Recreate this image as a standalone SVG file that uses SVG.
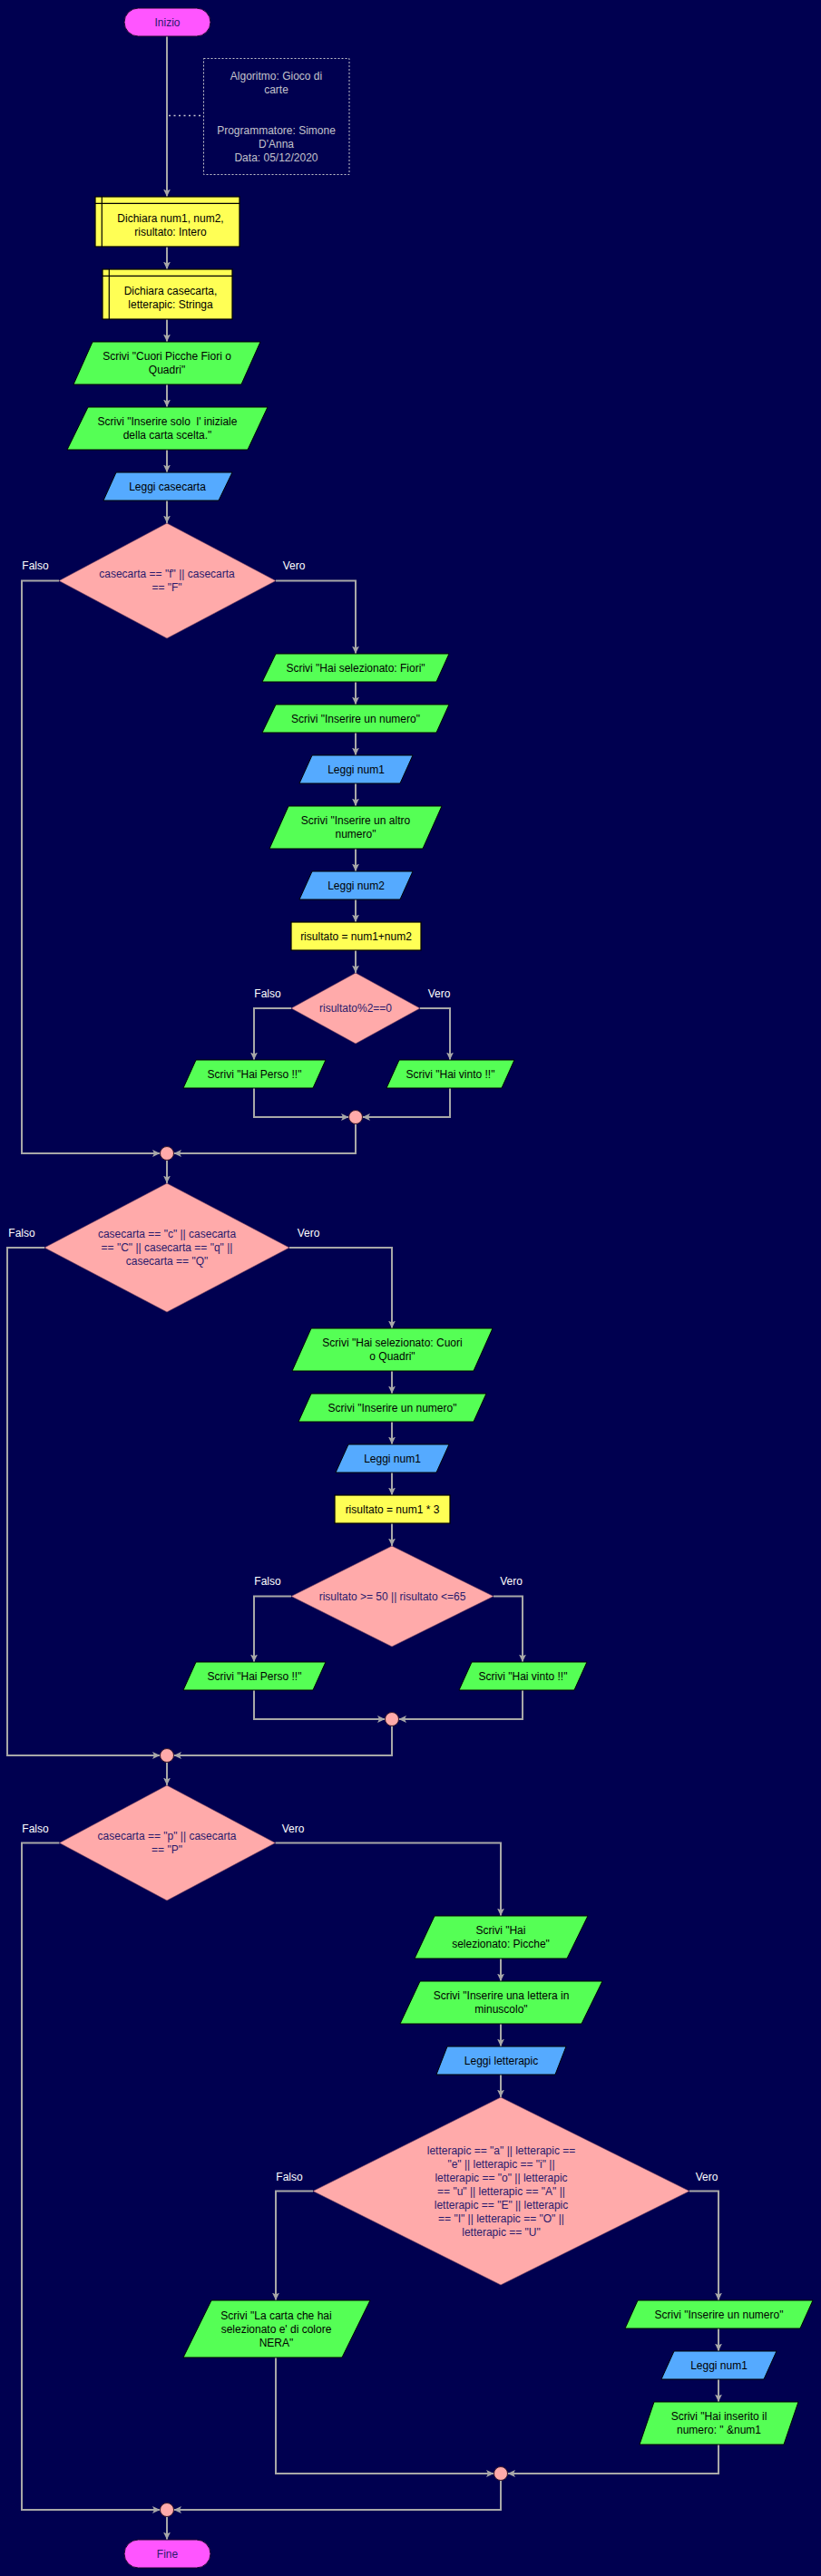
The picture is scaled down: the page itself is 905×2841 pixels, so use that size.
<svg xmlns="http://www.w3.org/2000/svg" width="905" height="2841" viewBox="0 0 905 2841">
<style>
text{font-family:"Liberation Sans",Arial,sans-serif;font-size:12px;text-anchor:middle}
.t{fill:#000000}
.dt{fill:#2a1a6c}
.lb{fill:#ffffff}
.nt{fill:#c4c4cc}
.term{fill:#ff55ff;stroke:#1a0a2a;stroke-width:1}
.proc{fill:#ffff55;stroke:#000000;stroke-width:1.2}
.decl{fill:#ffff55;stroke:#000000;stroke-width:1.2}
.out{fill:#55ff55;stroke:#000000;stroke-width:1}
.in{fill:#55aaff;stroke:#000000;stroke-width:1}
.dec{fill:#ffaaaa;stroke:#6a3a5a;stroke-width:0.6}
.join{fill:#ffaaaa;stroke:#3a1a2a;stroke-width:1}
.ln{fill:none;stroke:#000000;stroke-width:1.2}
.c{fill:none;stroke:#a8a8a8;stroke-width:2;marker-end:url(#ah)}
</style>
<defs>
<marker id="ah" markerUnits="userSpaceOnUse" markerWidth="9" markerHeight="8" refX="8.5" refY="4" orient="auto">
<path d="M0,0 L8.5,4 L0,8 L2,4 z" fill="#a8a8a8"/>
</marker>
</defs>
<rect x="0" y="0" width="905" height="2841" fill="#000050"/>

<g id="connectors">
<path class="c" d="M184,40 V217"/>
<path class="c" d="M184,272 V297"/>
<path class="c" d="M184,352 V377"/>
<path class="c" d="M184,424 V449"/>
<path class="c" d="M184,496 V521"/>
<path class="c" d="M184,552 V577"/>
<path class="c" d="M65,640.5 H24 V1272 H176.5"/>
<path class="c" d="M304,640.5 H392 V721"/>
<path class="c" d="M392,752 V777"/>
<path class="c" d="M392,808 V833"/>
<path class="c" d="M392,864 V889"/>
<path class="c" d="M392,936 V961"/>
<path class="c" d="M392,992 V1017"/>
<path class="c" d="M392,1048 V1073"/>
<path class="c" d="M321,1112 H280 V1169"/>
<path class="c" d="M463,1112 H496 V1169"/>
<path class="c" d="M280,1200 V1232 H384.5"/>
<path class="c" d="M496,1200 V1232 H399.5"/>
<path class="c" d="M392,1239.5 V1272 H191.5"/>
<path class="c" d="M184,1279.5 V1305"/>
<path class="c" d="M49,1376 H8 V1936 H176.5"/>
<path class="c" d="M319,1376 H432 V1465"/>
<path class="c" d="M432,1512 V1537"/>
<path class="c" d="M432,1568 V1593"/>
<path class="c" d="M432,1624 V1649"/>
<path class="c" d="M432,1680 V1705"/>
<path class="c" d="M321,1760.5 H280 V1833"/>
<path class="c" d="M544,1760.5 H576 V1833"/>
<path class="c" d="M280,1864 V1896 H424.5"/>
<path class="c" d="M576,1864 V1896 H439.5"/>
<path class="c" d="M432,1903.5 V1936 H191.5"/>
<path class="c" d="M184,1943.5 V1969"/>
<path class="c" d="M65.5,2032.5 H24 V2768 H176.5"/>
<path class="c" d="M303.5,2032.5 H552 V2113"/>
<path class="c" d="M552,2160 V2185"/>
<path class="c" d="M552,2232 V2257"/>
<path class="c" d="M552,2288 V2313"/>
<path class="c" d="M345,2416.5 H304 V2537"/>
<path class="c" d="M760,2416.5 H792 V2537"/>
<path class="c" d="M304,2600 V2728 H544.5"/>
<path class="c" d="M792,2568 V2593"/>
<path class="c" d="M792,2624 V2649"/>
<path class="c" d="M792,2696 V2728 H559.5"/>
<path class="c" d="M552,2735.5 V2768 H191.5"/>
<path class="c" d="M184,2775.5 V2801"/>
<path d="M186,127.5 H224" fill="none" stroke="#c4c4cc" stroke-width="1.5" stroke-dasharray="2,3.5"/>
</g>

<g id="start">
<rect class="term" x="137" y="9" width="95" height="31" rx="15.5"/>
<text class="dt" x="184.5" y="28.8">Inizio</text>
</g>

<g id="note">
<rect x="224.5" y="64.5" width="160.5" height="128" fill="none" stroke="#c4c4cc" stroke-width="1" stroke-dasharray="2,2"/>
<text class="nt" x="304.5" y="88">Algoritmo: Gioco di</text>
<text class="nt" x="304.5" y="103">carte</text>
<text class="nt" x="304.5" y="148">Programmatore: Simone</text>
<text class="nt" x="304.5" y="163">D'Anna</text>
<text class="nt" x="304.5" y="178">Data: 05/12/2020</text>
</g>

<g id="decl1">
<rect class="decl" x="105" y="217" width="159" height="55"/>
<path class="ln" d="M112.3,217 V272 M105,224.3 H264"/>
<text class="t" x="188" y="245">Dichiara num1, num2,</text>
<text class="t" x="188" y="260">risultato: Intero</text>
</g>

<g id="decl2">
<rect class="decl" x="113" y="297" width="143" height="55"/>
<path class="ln" d="M120.3,297 V352 M113,304.3 H256"/>
<text class="t" x="188" y="325">Dichiara casecarta,</text>
<text class="t" x="188" y="340">letterapic: Stringa</text>
</g>

<g id="out1">
<polygon class="out" points="102,377 287,377 266,424 81,424"/>
<text class="t" x="184" y="397.3">Scrivi "Cuori Picche Fiori o</text>
<text class="t" x="184" y="412.3">Quadri"</text>
</g>

<g id="out2">
<polygon class="out" points="97,449 295,449 273,496 74,496"/>
<text class="t" x="184.5" y="469.3" xml:space="preserve">Scrivi "Inserire solo  l' iniziale</text>
<text class="t" x="184.5" y="484.3">della carta scelta."</text>
</g>

<g id="in1">
<polygon class="in" points="128,521 256,521 241,552 114,552"/>
<text class="t" x="184.5" y="541">Leggi casecarta</text>
</g>

<g id="dec1">
<polygon class="dec" points="184,577 304,640.5 184,704 65,640.5"/>
<text class="dt" x="184" y="637.3">casecarta == "f" || casecarta</text>
<text class="dt" x="184" y="652.3">== "F"</text>
<text class="lb" x="39" y="628.3">Falso</text>
<text class="lb" x="324" y="628.3">Vero</text>
</g>

<g id="out3">
<polygon class="out" points="304,721 495,721 481,752 289,752"/>
<text class="t" x="392" y="740.8">Scrivi "Hai selezionato: Fiori"</text>
</g>

<g id="out4">
<polygon class="out" points="304,777 495,777 481,808 289,808"/>
<text class="t" x="392" y="796.8">Scrivi "Inserire un numero"</text>
</g>

<g id="in2">
<polygon class="in" points="344,833 455,833 441,864 330,864"/>
<text class="t" x="392.5" y="852.8">Leggi num1</text>
</g>

<g id="out5">
<polygon class="out" points="318,889 487,889 466,936 297,936"/>
<text class="t" x="392" y="908.8">Scrivi "Inserire un altro</text>
<text class="t" x="392" y="923.8">numero"</text>
</g>

<g id="in3">
<polygon class="in" points="344,961 455,961 441,992 330,992"/>
<text class="t" x="392.5" y="980.8">Leggi num2</text>
</g>

<g id="proc1">
<rect class="proc" x="321" y="1017" width="143" height="31"/>
<text class="t" x="392.5" y="1036.8">risultato = num1+num2</text>
</g>

<g id="dec2">
<polygon class="dec" points="392,1073 463,1112 392,1151 321,1112"/>
<text class="dt" x="392" y="1116.3">risultato%2==0</text>
<text class="lb" x="295" y="1100.3">Falso</text>
<text class="lb" x="484" y="1100.3">Vero</text>
</g>

<g id="out6">
<polygon class="out" points="216,1169 359,1169 345,1200 202,1200"/>
<text class="t" x="280.5" y="1188.8">Scrivi "Hai Perso !!"</text>
</g>

<g id="out7">
<polygon class="out" points="440,1169 567,1169 553,1200 426,1200"/>
<text class="t" x="496.5" y="1188.8">Scrivi "Hai vinto !!"</text>
</g>

<g id="join1"><circle class="join" cx="392" cy="1232" r="7.5"/></g>
<g id="join2"><circle class="join" cx="184" cy="1272" r="7.5"/></g>

<g id="dec3">
<polygon class="dec" points="184,1305 319,1376 184,1447 49,1376"/>
<text class="dt" x="184" y="1365.3">casecarta == "c" || casecarta</text>
<text class="dt" x="184" y="1380.3">== "C" || casecarta == "q" ||</text>
<text class="dt" x="184" y="1395.3">casecarta == "Q"</text>
<text class="lb" x="24" y="1364.3">Falso</text>
<text class="lb" x="340" y="1364.3">Vero</text>
</g>

<g id="out8">
<polygon class="out" points="343,1465 543,1465 522,1512 322,1512"/>
<text class="t" x="432.5" y="1485.3">Scrivi "Hai selezionato: Cuori</text>
<text class="t" x="432.5" y="1500.3">o Quadri"</text>
</g>

<g id="out9">
<polygon class="out" points="343,1537 536,1537 522,1568 329,1568"/>
<text class="t" x="432.5" y="1556.8">Scrivi "Inserire un numero"</text>
</g>

<g id="in4">
<polygon class="in" points="384,1593 495,1593 481,1624 370,1624"/>
<text class="t" x="432.5" y="1612.8">Leggi num1</text>
</g>

<g id="proc2">
<rect class="proc" x="369" y="1649" width="127" height="31"/>
<text class="t" x="432.5" y="1668.8">risultato = num1 * 3</text>
</g>

<g id="dec4">
<polygon class="dec" points="432,1705 544,1760.5 432,1816 321,1760.5"/>
<text class="dt" x="432.5" y="1764.8">risultato &gt;= 50 || risultato &lt;=65</text>
<text class="lb" x="295" y="1748.3">Falso</text>
<text class="lb" x="563.5" y="1748.3">Vero</text>
</g>

<g id="out10">
<polygon class="out" points="216,1833 359,1833 345,1864 202,1864"/>
<text class="t" x="280.5" y="1852.8">Scrivi "Hai Perso !!"</text>
</g>

<g id="out11">
<polygon class="out" points="520,1833 647,1833 633,1864 506,1864"/>
<text class="t" x="576.5" y="1852.8">Scrivi "Hai vinto !!"</text>
</g>

<g id="join3"><circle class="join" cx="432" cy="1896" r="7.5"/></g>
<g id="join4"><circle class="join" cx="184" cy="1936" r="7.5"/></g>

<g id="dec5">
<polygon class="dec" points="184,1969 303.5,2032.5 184,2096 65.5,2032.5"/>
<text class="dt" x="184" y="2029.3">casecarta == "p" || casecarta</text>
<text class="dt" x="184" y="2044.3">== "P"</text>
<text class="lb" x="39" y="2021.3">Falso</text>
<text class="lb" x="323" y="2021.3">Vero</text>
</g>

<g id="out12">
<polygon class="out" points="479,2113 648,2113 625,2160 457,2160"/>
<text class="t" x="552" y="2133.3">Scrivi "Hai</text>
<text class="t" x="552" y="2148.3">selezionato: Picche"</text>
</g>

<g id="out13">
<polygon class="out" points="463,2185 664,2185 641,2232 441,2232"/>
<text class="t" x="552.5" y="2205.3">Scrivi "Inserire una lettera in</text>
<text class="t" x="552.5" y="2220.3">minuscolo"</text>
</g>

<g id="in5">
<polygon class="in" points="493,2257 624,2257 612,2288 481,2288"/>
<text class="t" x="552.5" y="2276.8">Leggi letterapic</text>
</g>

<g id="dec6">
<polygon class="dec" points="552,2313 760,2416.5 552,2520 345,2416.5"/>
<text class="dt" x="552.5" y="2376">letterapic == "a" || letterapic ==</text>
<text class="dt" x="552.5" y="2391">"e" || letterapic == "i" ||</text>
<text class="dt" x="552.5" y="2406">letterapic == "o" || letterapic</text>
<text class="dt" x="552.5" y="2421">== "u" || letterapic == "A" ||</text>
<text class="dt" x="552.5" y="2436">letterapic == "E" || letterapic</text>
<text class="dt" x="552.5" y="2451">== "I" || letterapic == "O" ||</text>
<text class="dt" x="552.5" y="2466">letterapic == "U"</text>
<text class="lb" x="319" y="2405.3">Falso</text>
<text class="lb" x="779" y="2405.3">Vero</text>
</g>

<g id="out14">
<polygon class="out" points="233,2537 408,2537 377,2600 202,2600"/>
<text class="t" x="304.5" y="2558">Scrivi "La carta che hai</text>
<text class="t" x="304.5" y="2573">selezionato e' di colore</text>
<text class="t" x="304.5" y="2588">NERA"</text>
</g>

<g id="out15">
<polygon class="out" points="703,2537 896,2537 882,2568 689,2568"/>
<text class="t" x="792.5" y="2556.8">Scrivi "Inserire un numero"</text>
</g>

<g id="in6">
<polygon class="in" points="743,2593 856,2593 842,2624 729,2624"/>
<text class="t" x="792.5" y="2612.8">Leggi num1</text>
</g>

<g id="out16">
<polygon class="out" points="721,2649 880,2649 864,2696 705,2696"/>
<text class="t" x="792.5" y="2668.6">Scrivi "Hai inserito il</text>
<text class="t" x="792.5" y="2683.6">numero: " &amp;num1</text>
</g>

<g id="join5"><circle class="join" cx="552" cy="2728" r="7.5"/></g>
<g id="join6"><circle class="join" cx="184" cy="2768" r="7.5"/></g>

<g id="end">
<rect class="term" x="137" y="2801" width="95" height="31" rx="15.5"/>
<text class="dt" x="184.5" y="2820.8">Fine</text>
</g>
</svg>
